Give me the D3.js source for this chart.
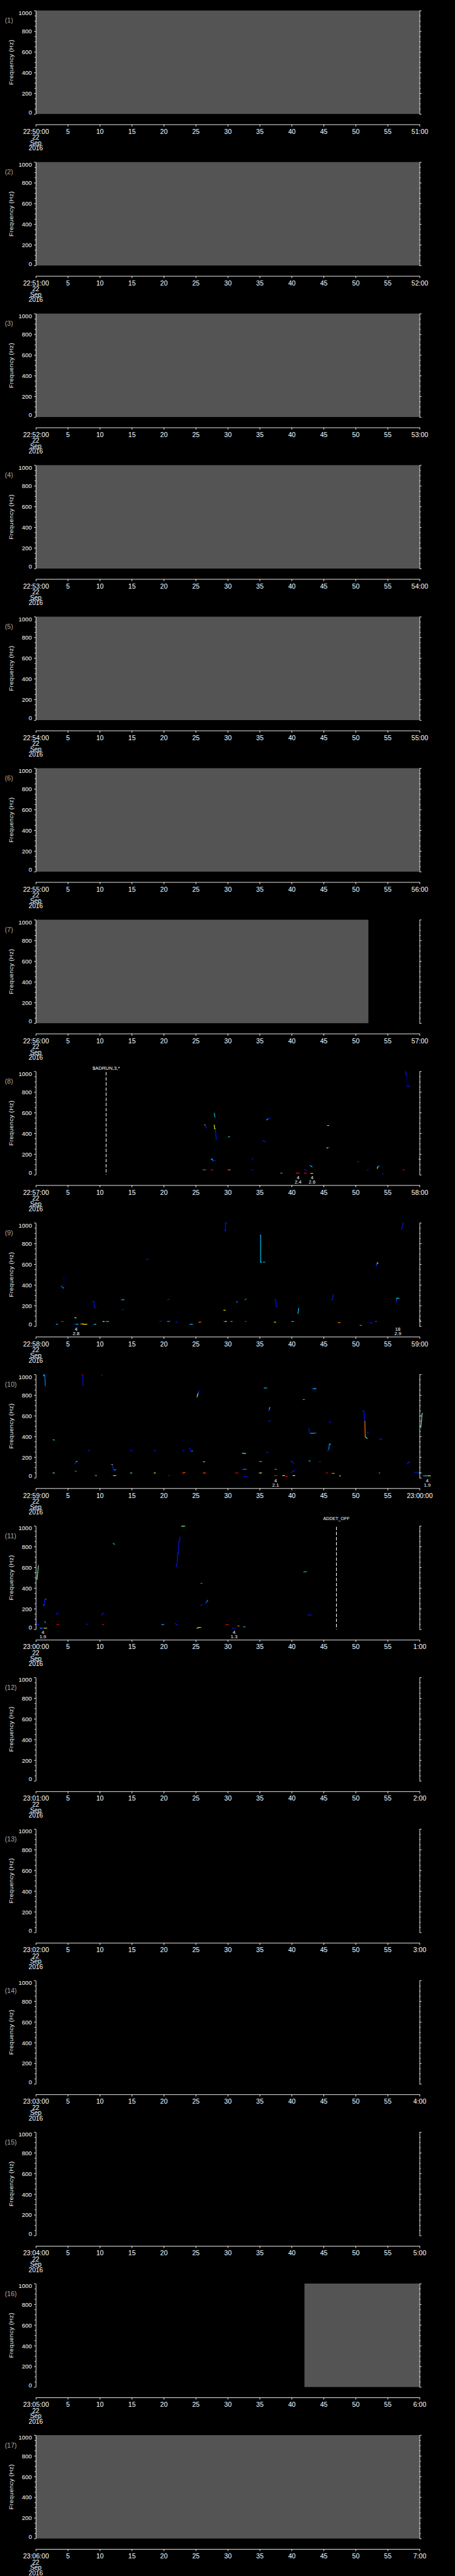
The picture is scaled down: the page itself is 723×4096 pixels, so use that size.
<!DOCTYPE html>
<html><head><meta charset="utf-8">
<script src="https://cdn.jsdelivr.net/npm/d3@7"></script>
<style>html,body{margin:0;padding:0;background:#000;} svg{display:block}</style>
</head><body>
<svg id="chart"></svg>
<script>
// ---------------- DATA ----------------
const panelNumbers = d3.range(1, 18);
const startLabels = ["22:50:00","22:51:00","22:52:00","22:53:00","22:54:00","22:55:00","22:56:00","22:57:00","22:58:00","22:59:00","23:00:00","23:01:00","23:02:00","23:03:00","23:04:00","23:05:00","23:06:00"];
const endLabels = ["51:00","52:00","53:00","54:00","55:00","56:00","57:00","58:00","59:00","23:00:00","1:00","2:00","3:00","4:00","5:00","6:00","7:00"];
const midTickLabels = ["5","10","15","20","25","30","35","40","45","50","55"];
const dateLines = ["22","Sep","2016"];
const yMajorTicks = [0,200,400,600,800,1000];
const yMinorTicks = [50,100,150,250,300,350,450,500,550,650,700,750,850,900,950];
const xTickValues = [0,5,10,15,20,25,30,35,40,45,50,55,60];

// gray spans: [panel, tStart, tEnd]
const coverage = [[1,0,60],[2,0,60],[3,0,60],[4,0,60],[5,0,60],[6,0,60],[7,0,52],[16,42,60],[17,0,60]];

// event markers: [panel, t, label]
const events = [[8, 11.0, "$ADRUN,3,*"], [11, 47.0, "ADDET_OFF"]];

// detection annotations: [panel, t, line1, line2]
const detections = [
  [8,41.0,"4","2.4"],[8,43.2,"4","2.6"],
  [9,6.3,"4","2.8"],[9,56.6,"18","2.9"],
  [10,37.5,"4","2.1"],[10,61.2,"4","1.9"],
  [11,1.1,"4","1.9"],[11,31.0,"4","1.3"]
];

// intensity levels (0..1 on a jet colour map)
const N=0.03,B=0.15,L=0.27,C=0.33,G=0.48,Y=0.63,O=0.75,R=0.87;

// contours: each point [seconds, Hz, intensity]
const contoursP8 = [
 [[26.4,481,Y],[26.5,481,B],[26.7,450,B]],
 [[27.9,594,C],[28.0,558,C]],
 [[27.9,480,Y],[27.95,445,G],[28.1,443,B],[28.2,345,B],[28.25,340,C]],
 [[30.1,362,C],[30.3,370,B]],
 [[35.5,330,B],[35.9,320,B]],
 [[36.1,530,C],[36.3,540,B],[36.6,545,B]],
 [[45.6,476,G],[45.8,476,G]],
 [[45.5,259,Y],[45.7,262,B],[45.9,262,B]],
 [[27.4,150,C],[27.6,150,C],[27.7,135,B],[28.1,135,B]],
 [[33.8,153,B],[33.95,153,B]],
 [[42.9,90,C],[43.2,76,C]],
 [[50.3,125,B],[50.5,125,B]],
 [[53.4,62,Y],[53.5,80,L],[53.7,85,B]],
 [[57.8,1000,B],[57.9,970,B],[58.0,960,N],[58.0,855,N],[58.1,855,B],[58.4,855,B]],
 [[59.9,150,C],[60.1,150,C]],
 [[26.2,47,O],[26.4,47,R],[26.5,47,B],[26.7,47,B]],
 [[27.4,47,R],[27.7,47,B]],
 [[30.0,47,R],[30.2,47,O],[30.4,47,B]],
 [[33.8,47,B],[33.95,47,B]],
 [[42.0,47,B],[42.3,47,B]],
 [[51.8,47,B],[52.0,47,B]],
 [[57.4,47,R],[57.6,47,R]],
 [[38.3,16,O],[38.5,16,Y]],
 [[40.7,16,R],[41.0,16,R],[41.2,16,B]],
 [[42.0,16,R],[42.3,16,O]],
 [[43.0,13,Y],[43.3,13,B]],
 [[54.2,7,B],[54.35,7,B]]
];
const contoursP9 = [
 [[4.0,388,L],[4.2,375,B],[4.3,370,C],[4.35,375,N],[4.4,479,N],[4.6,479,B]],
 [[8.9,240,B],[9.1,238,B],[9.2,185,B],[9.4,176,B]],
 [[13.4,256,C],[13.8,256,B]],
 [[13.5,162,B],[13.7,160,B]],
 [[17.3,648,B],[17.6,648,B]],
 [[20.6,256,B],[20.9,262,B]],
 [[29.5,924,B],[29.65,924,B],[29.65,998,B],[29.9,998,B]],
 [[29.4,155,Y],[29.6,155,C]],
 [[31.4,235,C],[31.5,235,C]],
 [[32.7,256,L],[32.9,265,C]],
 [[35.1,878,C],[35.15,878,C],[35.15,619,C],[35.3,619,Y]],
 [[35.6,619,C],[35.8,619,B]],
 [[37.4,256,B],[37.5,256,B],[37.6,190,B],[37.8,187,L]],
 [[41.0,123,C],[41.1,173,G]],
 [[46.2,256,B],[46.4,260,B],[46.5,309,N]],
 [[53.2,577,B],[53.3,600,L],[53.4,614,G],[53.5,608,Y]],
 [[56.3,227,B],[56.4,262,C],[56.5,273,C],[56.8,270,B]],
 [[57.2,935,B],[57.4,990,B],[57.5,998,L]],
 [[59.9,564,B],[60.0,564,B]],
 [[59.9,73,B],[60.0,64,C],[60.1,53,Y],[60.2,46,R],[60.3,44,O]],
 [[6.1,84,G],[6.3,80,G]],
 [[4.0,46,R],[4.3,46,R]],
 [[10.5,46,Y],[10.7,46,Y]],
 [[11.0,46,C],[11.4,46,C]],
 [[19.4,46,B],[19.7,50,L]],
 [[20.6,46,C],[20.9,46,B],[21.0,52,B]],
 [[21.9,40,B],[22.1,40,B]],
 [[25.5,40,O],[25.8,40,Y]],
 [[29.4,46,R],[29.6,46,Y],[29.8,46,B]],
 [[30.5,46,C],[30.7,46,B]],
 [[32.7,46,R],[32.9,46,C]],
 [[37.3,40,Y],[37.5,40,C]],
 [[40.0,46,C],[40.3,46,B]],
 [[47.3,36,O],[47.6,34,B]],
 [[53.1,46,R],[53.3,46,O]],
 [[3.2,20,C],[3.4,20,C]],
 [[6.0,20,B],[6.3,20,C],[6.6,20,C]],
 [[7.0,22,O],[7.3,22,Y],[7.6,20,Y],[8.0,20,C]],
 [[9.1,20,C],[9.4,20,C]],
 [[24.1,20,C],[24.5,20,B]],
 [[50.7,9,C],[50.9,9,C]],
 [[52.2,33,B],[52.6,33,B]]
];
const contoursP10 = [
 [[1.2,985,C],[1.3,997,L],[1.4,990,L],[1.5,888,B],[1.55,888,Y]],
 [[7.3,997,R],[7.35,990,B],[7.4,893,B]],
 [[10.3,996,B],[10.4,990,B]],
 [[2.7,368,C],[2.9,365,C]],
 [[8.2,262,B],[8.4,262,B]],
 [[14.8,262,B],[15.1,262,B]],
 [[18.5,262,B],[18.7,262,B]],
 [[23.0,262,B],[23.2,262,B]],
 [[24.1,287,B],[24.2,262,B],[24.4,254,L],[24.5,262,B]],
 [[25.2,781,G],[25.3,800,G],[25.4,820,B],[25.5,841,B]],
 [[26.2,155,G],[26.4,155,C]],
 [[6.1,136,B],[6.3,155,C],[6.5,160,C]],
 [[11.9,129,Y],[12.0,125,B],[12.1,82,B],[12.3,75,C],[12.5,80,L]],
 [[32.3,239,G],[32.6,235,G],[32.8,235,C]],
 [[32.3,77,B],[32.5,82,L],[32.9,82,C]],
 [[35.7,868,C],[36.1,868,B]],
 [[36.1,245,B],[36.3,245,B]],
 [[36.4,645,B],[36.5,660,C],[36.6,681,C]],
 [[36.4,547,B],[36.7,550,B]],
 [[35.0,158,C],[35.3,158,B]],
 [[37.4,82,C],[37.6,82,Y]],
 [[41.8,756,C],[42.0,756,B]],
 [[39.9,160,B],[40.1,158,B],[40.3,139,B]],
 [[40.0,50,B],[40.2,62,B],[40.5,72,L]],
 [[42.7,477,B],[42.8,430,B],[43.0,430,C],[43.4,430,L],[43.8,433,B]],
 [[43.1,864,B],[43.4,860,C],[43.8,864,B]],
 [[42.7,163,C],[42.9,163,C]],
 [[44.3,156,B],[44.5,156,B]],
 [[45.6,258,B],[45.8,275,L],[45.9,325,C],[46.1,325,C]],
 [[45.9,540,B],[46.1,537,B]],
 [[51.1,645,B],[51.3,645,B],[51.4,550,B],[51.45,545,O],[51.5,401,O],[51.55,391,R],[51.6,391,G],[51.8,381,G]],
 [[51.8,444,B],[52.0,430,B]],
 [[53.7,377,B],[54.1,372,C]],
 [[58.1,136,B],[58.3,150,B],[58.5,156,L]],
 [[60.2,487,G],[60.3,550,G],[60.4,620,C],[60.5,623,C]],
 [[60.6,19,C],[61.0,19,C],[61.4,19,Y],[61.7,19,C]],
 [[59.2,53,B],[59.7,53,B]],
 [[59.9,47,C],[60.3,47,C]],
 [[2.7,47,G],[2.9,47,G]],
 [[6.2,64,C],[6.3,64,C]],
 [[14.8,47,G],[15.0,47,Y]],
 [[18.5,47,Y],[18.7,47,B]],
 [[22.9,47,R],[23.1,47,O],[23.3,51,B]],
 [[26.2,47,O],[26.4,47,R],[26.6,47,O]],
 [[31.2,47,R],[31.6,47,R]],
 [[34.9,47,C],[35.1,47,Y],[35.3,47,C]],
 [[45.4,47,R],[45.6,47,R]],
 [[46.3,43,O],[46.7,43,R]],
 [[53.7,47,C],[53.8,47,C]],
 [[9.3,21,O],[9.5,21,O]],
 [[11.9,21,B],[12.2,21,Y],[12.5,21,C]],
 [[20.7,21,B],[20.9,21,B]],
 [[32.5,14,B],[33.0,14,B]],
 [[37.3,21,R],[37.7,21,B]],
 [[38.6,21,Y],[38.9,21,Y]],
 [[39.1,14,R],[39.3,14,R]],
 [[40.2,21,Y],[40.5,21,Y]],
 [[47.5,21,Y],[47.6,16,Y]]
];
const contoursP11 = [
 [[0.2,483,G],[0.3,550,G],[0.4,615,R],[0.45,620,O]],
 [[0.1,46,B],[0.5,46,B]],
 [[0.7,11,C],[1.0,11,B],[1.3,11,Y],[1.7,11,G]],
 [[1.2,232,C],[1.3,236,B],[1.4,280,B],[1.5,293,L],[1.6,290,B]],
 [[1.4,75,C],[1.5,65,G]],
 [[3.2,143,B],[3.5,158,B]],
 [[3.3,46,R],[3.6,46,Y]],
 [[7.9,50,B],[8.1,50,Y]],
 [[10.3,139,B],[10.45,150,B],[10.6,158,B]],
 [[10.4,46,R],[10.6,46,O]],
 [[12.1,830,C],[12.3,822,B]],
 [[19.7,46,C],[20.0,46,B]],
 [[21.8,56,B],[22.0,46,B],[22.1,44,B]],
 [[21.9,615,B],[22.0,610,B],[22.1,640,B],[22.15,735,B],[22.3,735,B],[22.35,845,B],[22.5,849,B],[22.55,892,B]],
 [[22.8,997,G],[23.0,997,G],[23.3,997,B]],
 [[25.8,445,L],[26.0,445,L]],
 [[25.8,228,B],[26.0,242,L]],
 [[26.5,247,B],[26.7,265,L],[26.9,283,B]],
 [[25.2,10,Y],[25.5,18,G],[25.8,18,O]],
 [[29.7,46,R],[30.1,46,O]],
 [[30.7,11,B],[31.2,11,C]],
 [[31.6,32,O],[31.8,32,Y]],
 [[32.5,24,C],[32.7,24,C]],
 [[41.9,555,C],[42.3,558,B]],
 [[42.5,139,B],[43.1,139,B]]
];
const contoursByPanel = {8: contoursP8, 9: contoursP9, 10: contoursP10, 11: contoursP11};

// ---------------- LAYOUT / STYLE ----------------
const W = 1024, H = 5802;
const X0 = 80.5, X1 = 944.3, TOP0 = 23.7, PERIOD = 341.31, PH = 233, AXIS_OFF = 256.6;
const FONT = "'Liberation Sans', Arial, sans-serif";
const eventLabelOffset = {"$ADRUN,3,*": -3.5, "ADDET_OFF": -13.4};
const eventFont = {"$ADRUN,3,*": 11, "ADDET_OFF": 10};

const jet = d3.scaleLinear()
  .domain([0, 0.125, 0.375, 0.625, 0.875, 1])
  .range(["#00008f", "#0000ff", "#00ffff", "#ffff00", "#ff0000", "#800000"])
  .clamp(true);

const svg = d3.select("#chart")
  .attr("width", 723).attr("height", 4096)
  .attr("viewBox", `0 0 ${W} ${H}`);
svg.append("rect").attr("width", W).attr("height", H).attr("fill", "#000");

const x = d3.scaleLinear().domain([0, 60]).range([X0, X1]);
const y = d3.scaleLinear().domain([0, 1000]).range([PH, 0]);

function styleAxis(sel) {
  sel.select(".domain").attr("stroke", "#fff").attr("stroke-width", 1.3);
  sel.selectAll(".tick line").attr("stroke", "#fff").attr("stroke-width", 1.3);
  sel.selectAll(".tick text").attr("fill", "#fff").attr("font-family", FONT);
}

panelNumbers.forEach((pn, i) => {
  const top = TOP0 + i * PERIOD;
  const g = svg.append("g").attr("transform", `translate(0,${top})`);

  coverage.filter(c => c[0] === pn).forEach(c => {
    g.append("rect")
      .attr("x", x(c[1])).attr("width", x(c[2]) - x(c[1]))
      .attr("y", y(1000)).attr("height", y(0) - y(1000))
      .attr("fill", "#545454");
  });

  events.filter(e => e[0] === pn).forEach(e => {
    g.append("line")
      .attr("x1", x(e[1])).attr("x2", x(e[1]))
      .attr("y1", y(1000) + 2).attr("y2", y(0))
      .attr("stroke", "#fff").attr("stroke-width", 1.5)
      .attr("stroke-dasharray", "7.5,4");
    g.append("text")
      .attr("x", x(e[1])).attr("y", eventLabelOffset[e[2]])
      .attr("text-anchor", "middle").attr("fill", "#fff")
      .attr("font-family", FONT).attr("font-size", eventFont[e[2]])
      .text(e[2]);
  });

  const cs = contoursByPanel[pn] || [];
  cs.forEach(pts => {
    for (let k = 0; k < pts.length - 1; k++) {
      const a = pts[k], b = pts[k + 1];
      g.append("line")
        .attr("x1", x(a[0])).attr("y1", y(a[1]))
        .attr("x2", x(b[0])).attr("y2", y(b[1]))
        .attr("stroke", jet(a[2]))
        .attr("stroke-width", a[2] < 0.1 ? 1.0 : 1.6)
        .attr("stroke-linecap", "square");
    }
  });

  detections.filter(d => d[0] === pn).forEach(d => {
    g.append("text").attr("x", x(d[1])).attr("y", PH + 10.5)
      .attr("text-anchor", "middle").attr("fill", "#fff")
      .attr("font-family", FONT).attr("font-size", 11).text(d[2]);
    g.append("text").attr("x", x(d[1])).attr("y", PH + 20.3)
      .attr("text-anchor", "middle").attr("fill", "#fff")
      .attr("font-family", FONT).attr("font-size", 11).text(d[3]);
  });

  const la = g.append("g").attr("transform", `translate(${X0},0)`)
    .call(d3.axisLeft(y).tickValues(yMajorTicks).tickSize(4).tickPadding(4.8).tickSizeOuter(0).tickFormat(d3.format("d")));
  styleAxis(la);
  la.selectAll(".tick text").attr("font-size", 13.5)
    .attr("dy", d => d === 1000 ? "0.72em" : d === 0 ? "0em" : "0.36em");
  const lm = g.append("g").attr("transform", `translate(${X0},0)`)
    .call(d3.axisLeft(y).tickValues(yMinorTicks).tickSize(2.7).tickFormat(""));
  styleAxis(lm); lm.select(".domain").remove();

  const ra = g.append("g").attr("transform", `translate(${X1},0)`)
    .call(d3.axisRight(y).tickValues(yMajorTicks).tickSize(4.4).tickFormat("").tickSizeOuter(0));
  styleAxis(ra);
  const rm = g.append("g").attr("transform", `translate(${X1},0)`)
    .call(d3.axisRight(y).tickValues(yMinorTicks).tickSize(2.5).tickFormat(""));
  styleAxis(rm); rm.select(".domain").remove();

  const labelFor = v => v === 0 ? startLabels[i] : v === 60 ? endLabels[i] : midTickLabels[v / 5 - 1];
  const ba = g.append("g").attr("transform", `translate(0,${AXIS_OFF})`)
    .call(d3.axisBottom(x).tickValues(xTickValues).tickSize(4.7).tickPadding(6).tickSizeOuter(0).tickFormat(labelFor));
  styleAxis(ba);
  ba.selectAll(".tick text").attr("font-size", 15);
  const dateOffsets = [34.7, 47, 58.7];
  dateLines.forEach((s, k) => {
    g.append("text").attr("x", x(0)).attr("y", AXIS_OFF + dateOffsets[k])
      .attr("text-anchor", "middle").attr("fill", "#fff")
      .attr("font-family", FONT).attr("font-size", 14.5).text(s);
  });

  g.append("text").attr("x", 11).attr("y", 28)
    .attr("fill", "#a8a8a8").attr("font-family", FONT).attr("font-size", 15)
    .text(`(${pn})`);

  g.append("text")
    .attr("transform", `translate(29,${PH / 2}) rotate(-90)`)
    .attr("text-anchor", "middle").attr("fill", "#e8e8e8")
    .attr("font-family", FONT).attr("font-size", 14).attr("letter-spacing", 0.4)
    .text("Frequency (Hz)");
});
</script>
</body></html>
